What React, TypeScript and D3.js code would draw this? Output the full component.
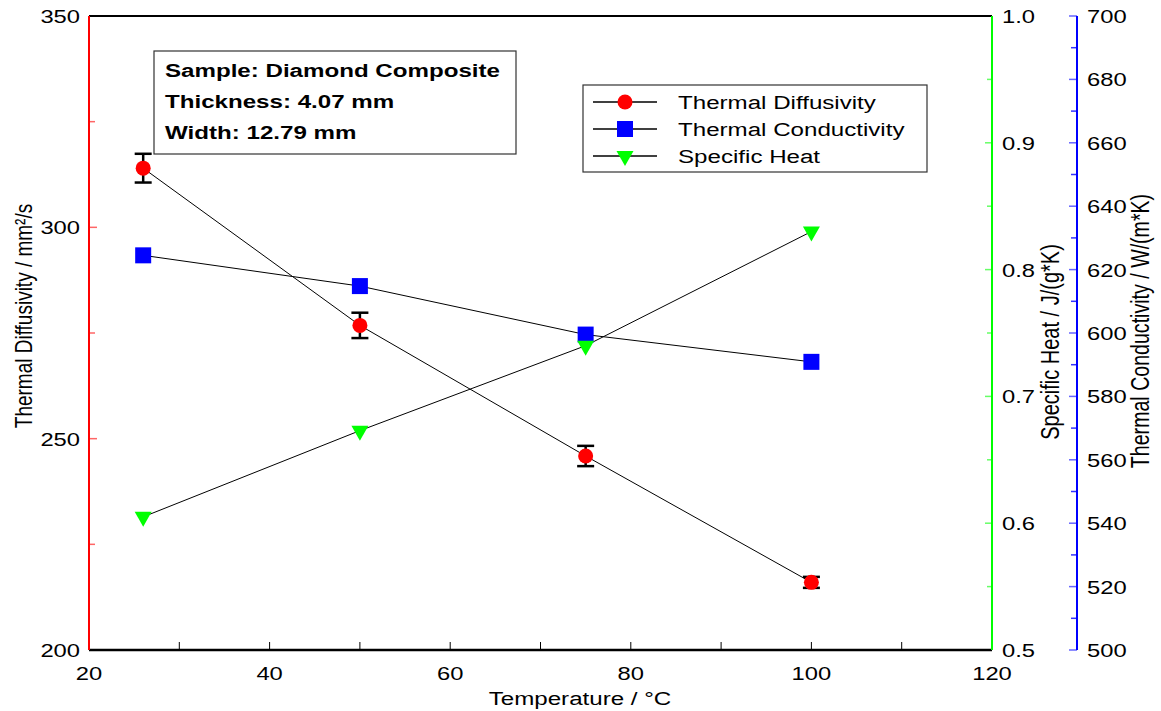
import React from "react";
import * as d3 from "d3";

const temperatures = [26, 50, 75, 100];
const diffusivity = [314.0, 276.8, 245.9, 216.0];
const diffusivityErr = [3.4, 3.0, 2.4, 1.3];
const conductivity = [624.5, 614.8, 599.5, 590.9];
const specificHeat = [0.605, 0.673, 0.74, 0.83];

const xTicks = [20, 30, 40, 50, 60, 70, 80, 90, 100, 110, 120];
const xLabels = [20, 40, 60, 80, 100, 120];
const leftTicks = [200, 225, 250, 275, 300, 325, 350];
const leftLabels = [200, 250, 300, 350];
const greenTicks = [0.5, 0.55, 0.6, 0.65, 0.7, 0.75, 0.8, 0.85, 0.9, 0.95, 1.0];
const greenLabels = [0.5, 0.6, 0.7, 0.8, 0.9, 1.0];
const blueTicks = d3.range(500, 701, 10);
const blueLabels = [500, 520, 540, 560, 580, 600, 620, 640, 660, 680, 700];

const infoLines = ["Sample: Diamond Composite", "Thickness: 4.07 mm", "Width: 12.79 mm"];
const legendItems = ["Thermal Diffusivity", "Thermal Conductivity", "Specific Heat"];

const FONT = "'Liberation Sans', Arial, Helvetica, sans-serif";
const SX = 1.27;

function T(props: {
  x: number;
  y: number;
  size: number;
  anchor?: string;
  bold?: boolean;
  rot?: boolean;
  sx?: number;
  children: React.ReactNode;
}) {
  const s = props.sx ?? SX;
  const tr = `translate(${props.x},${props.y}) scale(${s},1)${props.rot ? " rotate(-90)" : ""}`;
  return (
    <text
      transform={tr}
      fontSize={props.size}
      textAnchor={props.anchor || "start"}
      fontWeight={props.bold ? "bold" : "normal"}
      fill="#000"
    >
      {props.children}
    </text>
  );
}

export default function App() {
  const L = 89, R = 992, TOP = 16, B = 650, BX = 1077;
  const x = d3.scaleLinear().domain([20, 120]).range([L, R]);
  const yL = d3.scaleLinear().domain([200, 350]).range([B, TOP]);
  const yG = d3.scaleLinear().domain([0.5, 1.0]).range([B, TOP]);
  const yB = d3.scaleLinear().domain([500, 700]).range([B, TOP]);

  const line = d3.line<[number, number]>().x((d) => d[0]).y((d) => d[1]);
  const pD = temperatures.map((t, i) => [x(t), yL(diffusivity[i])] as [number, number]);
  const pC = temperatures.map((t, i) => [x(t), yB(conductivity[i])] as [number, number]);
  const pS = temperatures.map((t, i) => [x(t), yG(specificHeat[i])] as [number, number]);

  const tri = (cx: number, cy: number) =>
    `M${cx - 8.5},${cy - 5}L${cx + 8.5},${cy - 5}L${cx},${cy + 10}Z`;

  const isMajor = (v: number, arr: number[]) => arr.some((a) => Math.abs(a - v) < 1e-6);

  return (
    <svg
      width={1161}
      height={711}
      style={{ position: "absolute", left: 0, top: 0, background: "#fff" }}
      fontFamily={FONT}
    >
      <rect x={0} y={0} width={1161} height={711} fill="#fff" />
      {/* x ticks */}
      {xTicks.map((t) => (
        <line key={"xt" + t} x1={x(t)} x2={x(t)} y1={B} y2={B - 8} stroke="#000" strokeWidth={1} />
      ))}
      {xLabels.map((t) => (
        <T key={"xl" + t} x={x(t)} y={680} size={19} anchor="middle" sx={1.25}>
          {t}
        </T>
      ))}
      <T x={580} y={705} size={19} anchor="middle">
        Temperature / °C
      </T>

      {/* left axis ticks */}
      {leftTicks.map((t) => (
        <line
          key={"lt" + t}
          x1={L}
          x2={L + (isMajor(t, leftLabels) ? 8 : 6)}
          y1={yL(t)}
          y2={yL(t)}
          stroke="#ff6666"
          strokeWidth={1.5}
        />
      ))}
      {leftLabels.map((t) => (
        <T key={"ll" + t} x={80} y={yL(t) + 7} size={19} anchor="end" sx={1.25}>
          {t}
        </T>
      ))}
      <T x={32} y={316} size={19} anchor="middle" rot>
        Thermal Diffusivity / mm²/s
      </T>

      {/* green axis ticks */}
      {greenTicks.map((t) => (
        <line
          key={"gt" + t}
          x1={R}
          x2={R - (isMajor(t, greenLabels) ? 7 : 5)}
          y1={yG(t)}
          y2={yG(t)}
          stroke="#66ff66"
          strokeWidth={1.5}
        />
      ))}
      {greenLabels.map((t) => (
        <T key={"gl" + t} x={1002} y={yG(t) + 7} size={19} sx={1.25}>
          {t.toFixed(1)}
        </T>
      ))}
      <T x={1059} y={342} size={20} anchor="middle" rot>
        Specific Heat / J/(g*K)
      </T>

      {/* blue axis */}
      {blueTicks.map((t) => (
        <line
          key={"bt" + t}
          x1={BX}
          x2={BX - (isMajor(t, blueLabels) ? 8 : 6)}
          y1={yB(t)}
          y2={yB(t)}
          stroke={isMajor(t, blueLabels) ? "#6666ff" : "#3333ff"}
          strokeWidth={1.5}
        />
      ))}
      <line x1={BX} x2={BX} y1={TOP} y2={B} stroke="#0000ff" strokeWidth={2} />
      {blueLabels.map((t) => (
        <T key={"bl" + t} x={1087} y={yB(t) + 7} size={19} sx={1.25}>
          {t}
        </T>
      ))}
      <T x={1149} y={331} size={19.6} anchor="middle" rot>
        Thermal Conductivity / W/(m*K)
      </T>

      {/* frame */}
      <line x1={L} x2={R} y1={TOP} y2={TOP} stroke="#000" strokeWidth={2} />
      <line x1={L} x2={R} y1={B} y2={B} stroke="#000" strokeWidth={2.5} />
      <line x1={L} x2={L} y1={TOP} y2={B} stroke="#ff0000" strokeWidth={2} />
      <line x1={R} x2={R} y1={TOP} y2={B} stroke="#00ff00" strokeWidth={2} />

      {/* info box */}
      <rect x={154} y={51} width={362} height={103} fill="#fff" stroke="#333" strokeWidth={1.2} />
      {infoLines.map((s, i) => (
        <T key={s} x={165} y={77 + i * 31} size={19} bold>
          {s}
        </T>
      ))}

      {/* legend */}
      <rect x={583} y={85} width={344} height={87} fill="#fff" stroke="#333" strokeWidth={1.2} />
      {legendItems.map((s, i) => {
        const cy = 102 + i * 27;
        return (
          <g key={s}>
            <line x1={593} x2={657} y1={cy} y2={cy} stroke="#000" strokeWidth={1.5} />
            {i === 0 && <circle cx={625} cy={cy} r={7.5} fill="#ff0000" />}
            {i === 1 && <rect x={617} y={cy - 8} width={16} height={16} fill="#0000ff" />}
            {i === 2 && <path d={tri(625, cy)} fill="#00ff00" />}
            <T x={678} y={cy + 7} size={19}>
              {s}
            </T>
          </g>
        );
      })}

      {/* series lines */}
      <path d={line(pD) || ""} fill="none" stroke="#000" strokeWidth={1} />
      <path d={line(pC) || ""} fill="none" stroke="#000" strokeWidth={1} />
      <path d={line(pS) || ""} fill="none" stroke="#000" strokeWidth={1} />

      {/* error bars */}
      {temperatures.map((t, i) => {
        const cx = x(t);
        const y1 = yL(diffusivity[i] + diffusivityErr[i]);
        const y2 = yL(diffusivity[i] - diffusivityErr[i]);
        return (
          <g key={"eb" + t} stroke="#000" strokeWidth={2.5}>
            <line x1={cx} x2={cx} y1={y1} y2={y2} />
            <line x1={cx - 8.5} x2={cx + 8.5} y1={y1} y2={y1} />
            <line x1={cx - 8.5} x2={cx + 8.5} y1={y2} y2={y2} />
          </g>
        );
      })}

      {/* markers */}
      {pD.map(([cx, cy], i) => (
        <circle key={"cd" + i} cx={cx} cy={cy} r={7.5} fill="#ff0000" />
      ))}
      {pC.map(([cx, cy], i) => (
        <rect key={"cc" + i} x={cx - 8} y={cy - 8} width={16} height={16} fill="#0000ff" />
      ))}
      {pS.map(([cx, cy], i) => (
        <path key={"cs" + i} d={tri(cx, cy)} fill="#00ff00" />
      ))}
    </svg>
  );
}
